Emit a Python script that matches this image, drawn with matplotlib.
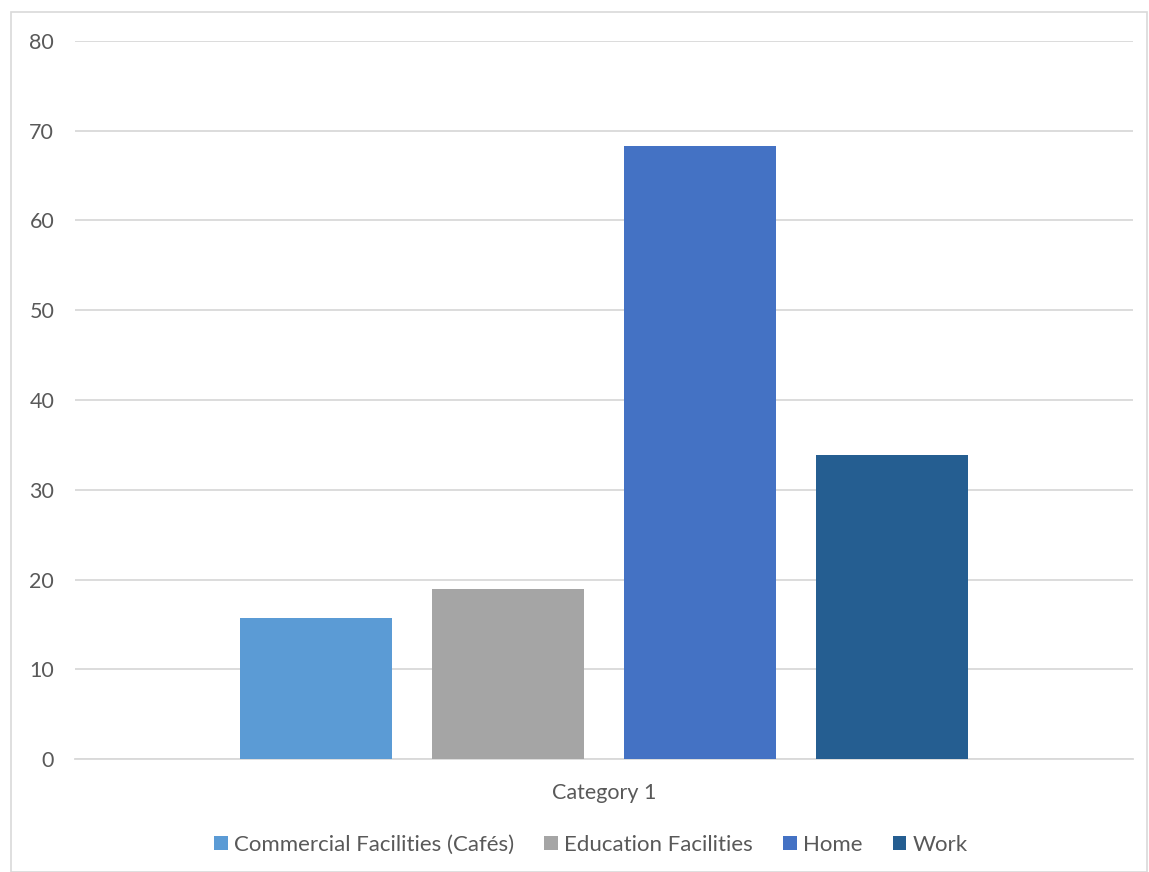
import matplotlib
matplotlib.use("Agg")
import matplotlib.pyplot as plt
from matplotlib.patches import Rectangle
import numpy as np

categories = ["Category 1"]
series = ["Commercial Facilities (Cafés)", "Education Facilities", "Home", "Work"]
values = [15.7, 18.9, 68.3, 33.9]
colors = ["#5B9BD5", "#A5A5A5", "#4472C4", "#255E91"]
yticks = [0, 10, 20, 30, 40, 50, 60, 70, 80]

plt.rcParams['font.family'] = ['Lato', 'DejaVu Sans']
W, H = 1149, 872
fig = plt.figure(figsize=(W/100, H/100), dpi=100)
fig.patches.append(Rectangle((11/W, 0), (1147-11)/W, (H-12)/H, transform=fig.transFigure,
                             fill=False, edgecolor="#D9D9D9", linewidth=1.2))
ax = fig.add_axes([75/W, 113/H, (1133-75)/W, (759-41)/H])

step = 192/1058
width = 152/1058
for i, (s, v, c) in enumerate(zip(series, values, colors)):
    ax.bar(0 + (i-1.5)*step, v, width=width, color=c, label=s, zorder=3)

ax.set_xlim(-0.5, 0.5)
ax.set_ylim(0, 80)
ax.set_yticks(yticks)
ax.set_xticks([0])
ax.set_xticklabels(categories)
ax.tick_params(axis='both', length=0, labelsize=15.5, colors="#595959")
ax.tick_params(axis='y', pad=15)
ax.tick_params(axis='x', pad=17)
ax.grid(axis='y', color="#D9D9D9", linewidth=1.3, zorder=0)
for sp in ["left", "right", "top"]:
    ax.spines[sp].set_visible(False)
ax.spines["bottom"].set_color("#D9D9D9")
ax.spines["bottom"].set_linewidth(1.3)

leg = fig.legend(loc="center", bbox_to_anchor=(591/W, 1-845/H), ncol=4, frameon=False,
                 fontsize=16, handlelength=0.62, handleheight=0.62, handletextpad=0.28,
                 columnspacing=1.35, labelcolor="#595959")

fig.savefig("out.png", dpi=100)
